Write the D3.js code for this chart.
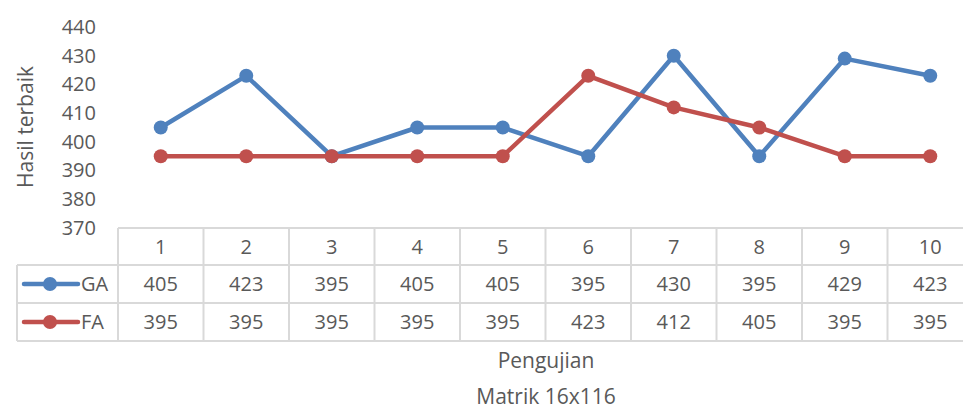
<!DOCTYPE html>
<html>
<head>
<meta charset="utf-8">
<script src="https://cdn.jsdelivr.net/npm/d3@7"></script>
<style>
body{margin:0;background:#fff;}
svg{font-family:"Open Sans",sans-serif;}
</style>
</head>
<body>
<svg id="svg" width="963" height="410"></svg>
<script>
var tests=['1','2','3','4','5','6','7','8','9','10'];
var gaValues=[405,423,395,405,405,395,430,395,429,423];
var faValues=[395,395,395,395,395,423,412,405,395,395];
var yTicks=[370,380,390,400,410,420,430,440];

var series=[
	{name:'GA',values:gaValues,color:'#4F81BD'},
	{name:'FA',values:faValues,color:'#C0504D'}
];

var svg=d3.select("#svg");
var textColor='#595959';
var gridColor='#D9D9D9';
var fs='20px';

var plot={left:118,right:973,top:27,bottom:228};
var rowH=[plot.bottom,265,303,341];

var xscale=d3.scaleBand()
.domain(tests)
.range([plot.left,plot.right]);

var yscale=d3.scaleLinear()
.domain([370,440])
.range([plot.bottom,plot.top]);

// y axis labels
var yaxis=svg.append("g")
.attr("transform","translate(96,0)")
.call(d3.axisLeft(yscale).tickValues(yTicks).tickSize(0).tickPadding(0));
yaxis.select(".domain").remove();
yaxis.selectAll("text").attr("fill",textColor).attr("font-size",fs).attr("font-family","Open Sans");

svg.append("text")
.attr("transform","translate(33,127) rotate(-90)")
.attr("text-anchor","middle")
.attr("fill",textColor)
.attr("font-size","21px")
.text("Hasil terbaik");

// data table grid
var table=svg.append("g");
table.append("line").attr("x1",plot.left).attr("x2",plot.right).attr("y1",rowH[0]).attr("y2",rowH[0]);
[1,2,3].forEach(function(i){
	table.append("line").attr("x1",17).attr("x2",plot.right).attr("y1",rowH[i]).attr("y2",rowH[i]);
});
table.append("line").attr("x1",17).attr("x2",17).attr("y1",rowH[1]).attr("y2",rowH[3]);
tests.forEach(function(t){
	var x=xscale(t);
	table.append("line").attr("x1",x).attr("x2",x).attr("y1",rowH[0]).attr("y2",rowH[3]);
});
table.selectAll("line").attr("stroke",gridColor).attr("stroke-width",2);

// header
svg.selectAll(".hdr").data(tests).enter()
.append("text")
.attr("x",function(d){return xscale(d)+xscale.bandwidth()/2;})
.attr("y",(rowH[0]+rowH[1])/2+7)
.attr("text-anchor","middle")
.attr("fill",textColor)
.attr("font-size",fs)
.text(function(d){return d;});

series.forEach(function(s,si){
	var yMid=(rowH[si+1]+rowH[si+2])/2;
	svg.selectAll(".val"+si).data(s.values).enter()
	.append("text")
	.attr("x",function(d,i){return xscale(tests[i])+xscale.bandwidth()/2;})
	.attr("y",yMid+7)
	.attr("text-anchor","middle")
	.attr("fill",textColor)
	.attr("font-size",fs)
	.text(function(d){return d;});
	// legend key
	svg.append("line").attr("x1",24).attr("x2",78).attr("y1",yMid).attr("y2",yMid)
	.attr("stroke",s.color).attr("stroke-width",4.5).attr("stroke-linecap","round");
	svg.append("circle").attr("cx",50).attr("cy",yMid).attr("r",7).attr("fill",s.color);
	svg.append("text").attr("x",81).attr("y",yMid+7).attr("fill",textColor)
	.attr("font-size",fs).text(s.name);
});

// lines
var line=d3.line()
.x(function(d,i){return xscale(tests[i])+xscale.bandwidth()/2;})
.y(function(d){return yscale(d);});

series.forEach(function(s){
	var g=svg.append("g");
	g.append("path").datum(s.values)
	.attr("d",line)
	.attr("fill","none")
	.attr("stroke",s.color)
	.attr("stroke-width",4.5)
	.attr("stroke-linejoin","round");
	g.selectAll("circle").data(s.values).enter()
	.append("circle")
	.attr("cx",function(d,i){return xscale(tests[i])+xscale.bandwidth()/2;})
	.attr("cy",function(d){return yscale(d);})
	.attr("r",7)
	.attr("fill",s.color);
});

// x axis title
svg.append("text").attr("x",546).attr("y",368).attr("text-anchor","middle")
.attr("fill",textColor).attr("font-size","21px").text("Pengujian");
svg.append("text").attr("x",546).attr("y",404).attr("text-anchor","middle")
.attr("fill",textColor).attr("font-size","21px").text("Matrik 16x116");
</script>
</body>
</html>
